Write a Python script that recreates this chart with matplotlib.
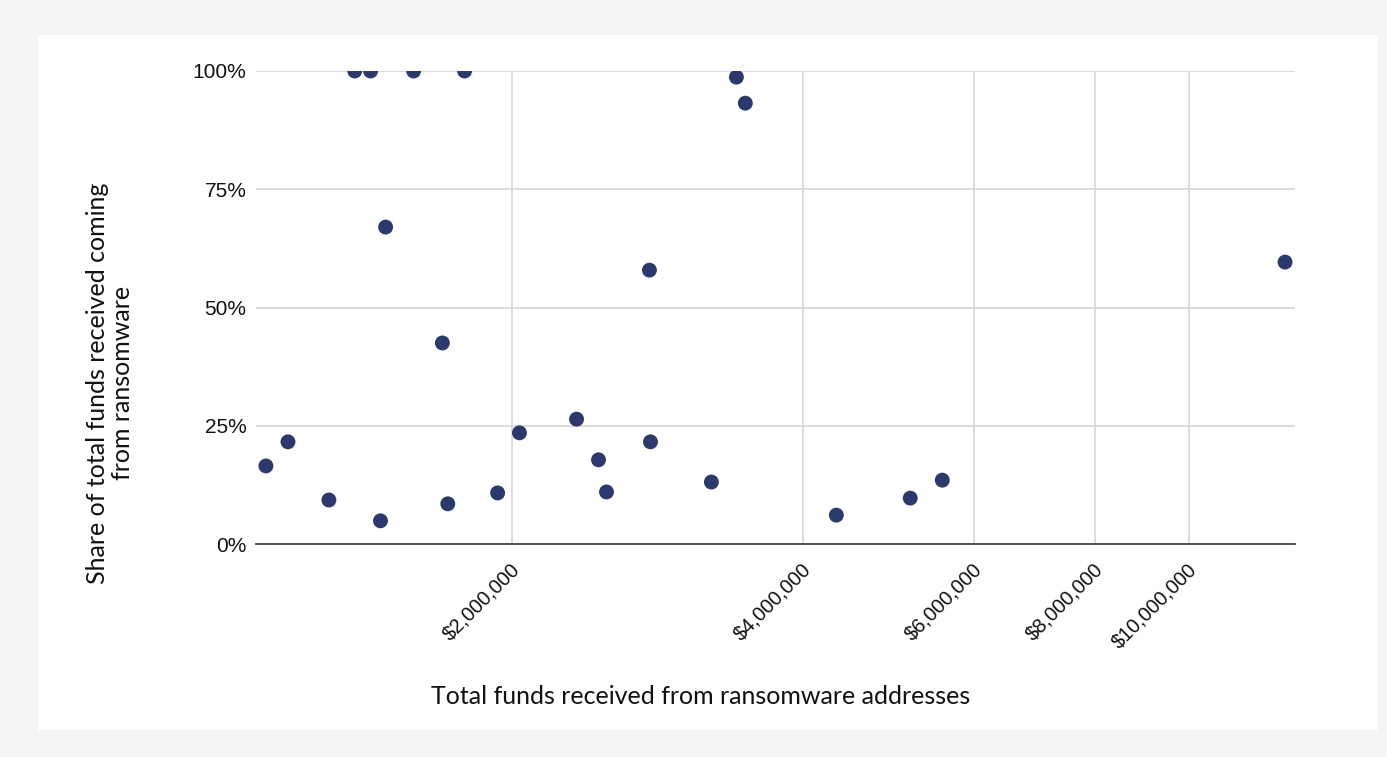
import matplotlib
matplotlib.use("Agg")
import matplotlib.pyplot as plt
from matplotlib.patches import Rectangle
from matplotlib.ticker import FixedLocator, FuncFormatter
from matplotlib.transforms import ScaledTranslation

# total funds received (USD) and share coming from ransomware
total_funds = [1116000, 1176000, 1296000, 1378000, 1431000, 1465000, 1483000,
               1585000, 1697000, 1719000, 1789000, 1935000, 2038000, 2334000,
               2459000, 2506000, 2775000, 2782000, 3215000, 3412000, 3485000,
               4326000, 5156000, 5564000, 12560000]
ransom_share = [0.165, 0.216, 0.093, 1.0, 1.0, 0.049, 0.670,
                1.0, 0.425, 0.085, 1.0, 0.108, 0.235, 0.264,
                0.178, 0.110, 0.579, 0.216, 0.131, 0.987, 0.932,
                0.061, 0.097, 0.135, 0.596]

x_ticks = [2000000, 4000000, 6000000, 8000000, 10000000]
y_ticks = [0, 0.25, 0.5, 0.75, 1.0]

W, H = 1387, 757
fig = plt.figure(figsize=(W / 100, H / 100), dpi=100, facecolor="#f5f5f5")
# white panel behind everything
fig.patches.append(Rectangle((38 / W, 1 - 730 / H), (1378 - 38) / W, (730 - 35) / H,
                             transform=fig.transFigure, facecolor="white",
                             edgecolor="none", zorder=-10))

ax = fig.add_axes([256 / W, 1 - 544 / H, (1295 - 256) / W, (544 - 71) / H])
ax.set_facecolor("white")
ax.set_xscale("log")
ax.set_xlim(1090000, 12860000)
ax.set_ylim(0, 1.0)

ax.scatter(total_funds, ransom_share, s=115, color="#2b3a6e", edgecolors="none",
           zorder=3, clip_on=True)

ax.xaxis.set_major_locator(FixedLocator(x_ticks))
ax.xaxis.set_minor_locator(FixedLocator([]))
ax.xaxis.set_major_formatter(FuncFormatter(lambda v, p: "${:,.0f}".format(v)))
ax.yaxis.set_major_locator(FixedLocator(y_ticks))
ax.yaxis.set_major_formatter(FuncFormatter(lambda v, p: "{:.0f}%".format(v * 100)))

ax.grid(True, color="#d6d6d6", linewidth=1.2, zorder=0)
ax.set_axisbelow(True)
for s in ["top", "right", "left"]:
    ax.spines[s].set_visible(False)
ax.spines["bottom"].set_color("#444444")
ax.spines["bottom"].set_linewidth(1.3)
ax.tick_params(length=0, labelcolor="#111111")
ax.tick_params(axis="x", pad=16, labelsize=14.5)
ax.tick_params(axis="y", pad=7, labelsize=15)
shift = ScaledTranslation(5 / 100, 0, fig.dpi_scale_trans)
for lbl in ax.get_xticklabels():
    lbl.set_fontfamily("Liberation Sans")
    lbl.set_rotation(45)
    lbl.set_ha("right")
    lbl.set_va("center")
    lbl.set_rotation_mode("anchor")
    lbl.set_transform(lbl.get_transform() + shift)
for lbl in ax.get_yticklabels():
    lbl.set_fontfamily("Liberation Sans")

fig.text(701 / W, 1 - 697 / H, "Total funds received from ransomware addresses",
         ha="center", va="center", fontsize=18, family="Lato", color="#111111")
fig.text(110 / W, 1 - 383 / H, "Share of total funds received coming\nfrom ransomware",
         ha="center", va="center", rotation=90, fontsize=18, family="Lato",
         color="#111111", linespacing=1.15)

fig.savefig("out.png", dpi=100, facecolor=fig.get_facecolor())
